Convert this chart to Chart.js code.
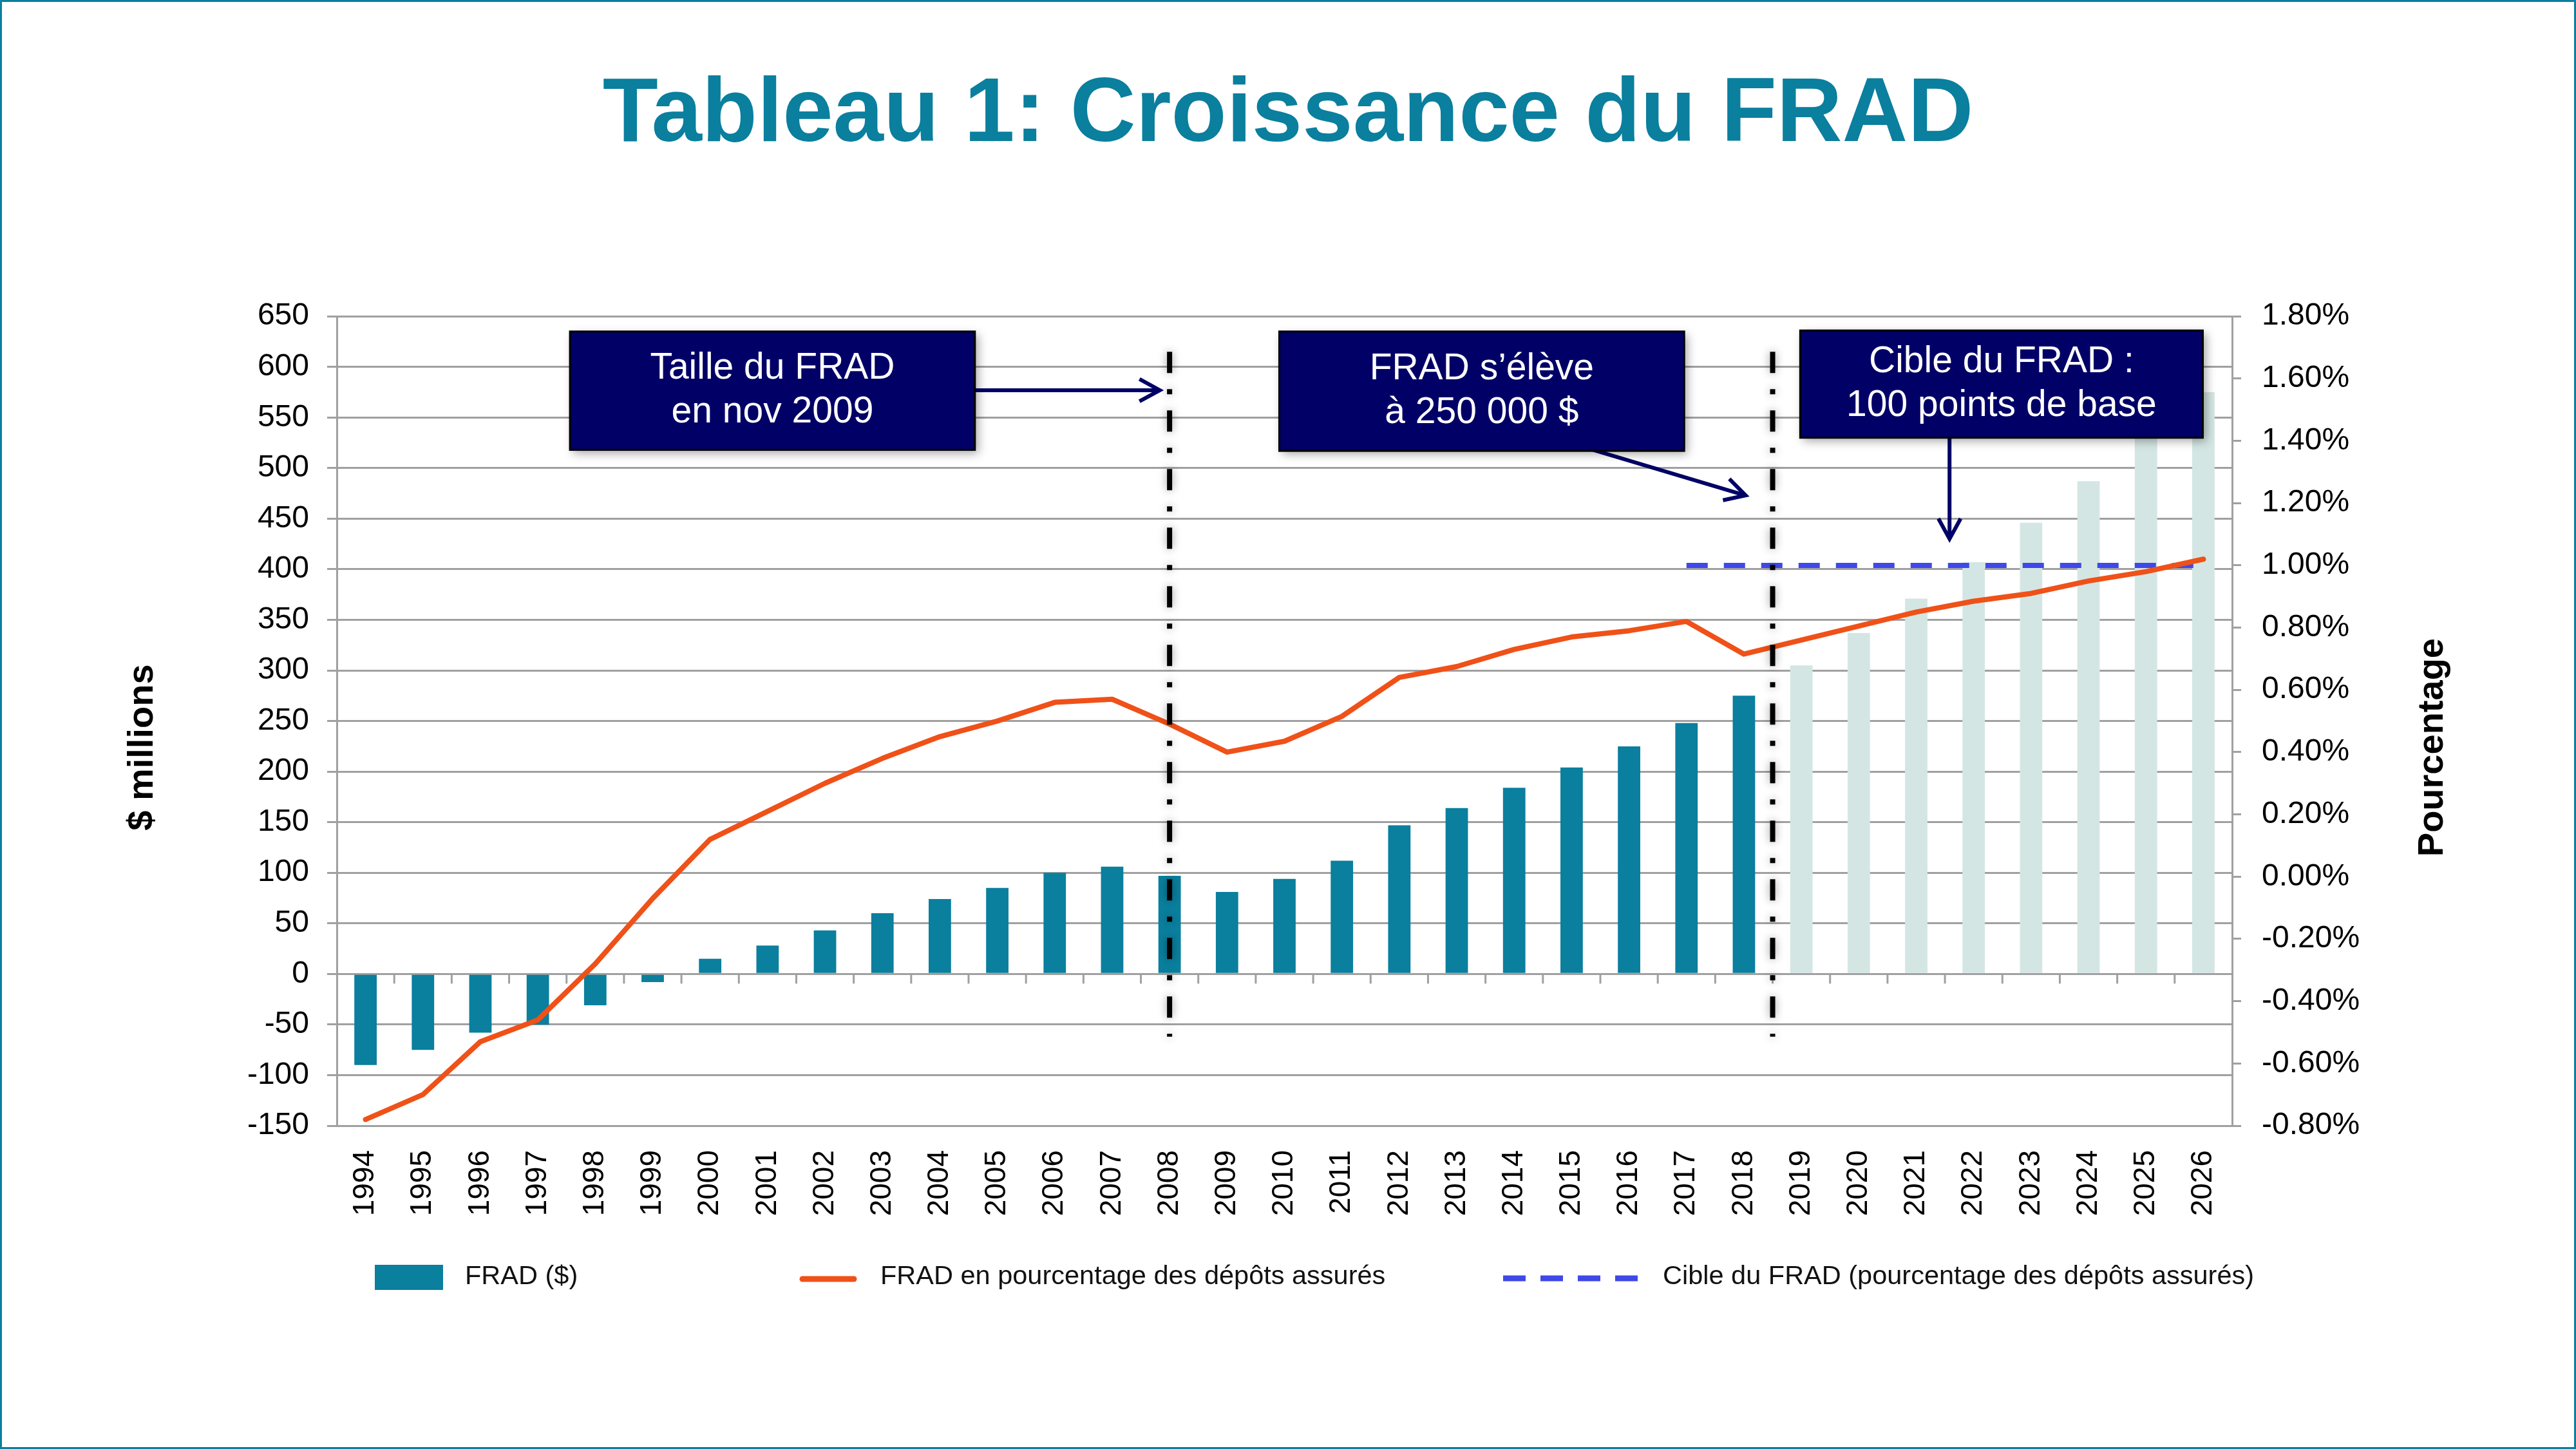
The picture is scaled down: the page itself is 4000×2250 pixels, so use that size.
<!DOCTYPE html>
<html lang="fr">
<head>
<meta charset="utf-8">
<title>Tableau 1: Croissance du FRAD</title>
<script src="https://cdn.jsdelivr.net/npm/chart.js@4.4.1/dist/chart.umd.min.js"></script>
<style>
  html, body { margin: 0; padding: 0; background: #ffffff; }
  #cadre { width: 4000px; height: 2250px; }
</style>
</head>
<body>
<div id="cadre"><canvas id="chart" width="4000" height="2250"></canvas></div>
<script>
// Données
const annees = ['1994', '1995', '1996', '1997', '1998', '1999', '2000', '2001', '2002', '2003', '2004',
    '2005', '2006', '2007', '2008', '2009', '2010', '2011', '2012', '2013', '2014', '2015', '2016',
    '2017', '2018', '2019', '2020', '2021', '2022', '2023', '2024', '2025', '2026'];

// FRAD en millions de dollars (axe de gauche)
const fradMillions = [-90, -75, -58, -50, -31, -8, 15, 28, 43, 60, 74, 85, 100, 106, 97, 81, 94,
    112, 147, 164, 184, 204, 225, 248, 275, 305, 337, 371, 407, 446, 487, 531, 575];

// FRAD en pourcentage des dépôts assurés (axe de droite)
const fradPourcentage = [-0.78, -0.70, -0.53, -0.46, -0.28, -0.07, 0.12, 0.21, 0.30, 0.38, 0.45,
    0.50, 0.56, 0.57, 0.49, 0.40, 0.435, 0.515, 0.64, 0.675, 0.73, 0.77, 0.79, 0.82, 0.715, 0.76,
    0.805, 0.85, 0.885, 0.91, 0.95, 0.98, 1.02];

// Cible du FRAD : 100 points de base
const cibleFrad = [null, null, null, null, null, null, null, null, null, null, null, null, null,
    null, null, null, null, null, null, null, null, null, null, 1.00, 1.00, 1.00, 1.00, 1.00, 1.00,
    1.00, 1.00, 1.00, 1.00];

const premiereAnneeProjetee = 2019;

const ticksGauche = [-150, -100, -50, 0, 50, 100, 150, 200, 250, 300, 350, 400, 450, 500, 550, 600, 650];
const ticksDroite = [-0.8, -0.6, -0.4, -0.2, 0, 0.2, 0.4, 0.6, 0.8, 1.0, 1.2, 1.4, 1.6, 1.8];

const etiquettesSeries = ['FRAD ($)', 'FRAD en pourcentage des dépôts assurés',
    'Cible du FRAD (pourcentage des dépôts assurés)'];

const textesAnnotations = [
    ['Taille du FRAD', 'en nov 2009'],
    ['FRAD s’élève', 'à 250 000 $'],
    ['Cible du FRAD :', '100 points de base']
];

// Couleurs
const TEAL = '#0A7F9E';
const TEAL_CLAIR = '#D4E6E3';
const ORANGE = '#EF5118';
const BLEU = '#3F48E8';
const MARINE = '#000066';
const GRILLE = '#A0A0A0';
const POLICE = '"Liberation Sans", Arial, sans-serif';

// Position des encadrés en unités du graphique (index d'année, millions $)
const encadres = [
    { x0: 3.56, x1: 10.61, yHaut: 635, yBas: 518, fleche: [10.61, 577, 13.83, 577] },
    { x0: 15.91, x1: 22.96, yHaut: 635, yBas: 517, fleche: [21.32, 519, 24.03, 473] },
    { x0: 24.98, x1: 31.99, yHaut: 636, yBas: 530, fleche: [27.58, 530, 27.58, 430] }
];
const lignesVerticales = [14, 24.5];

function dessinerFleche(ctx, x0, y0, x1, y1) {
    const angle = Math.atan2(y1 - y0, x1 - x0);
    const t = 36;
    ctx.beginPath();
    ctx.moveTo(x0, y0);
    ctx.lineTo(x1, y1);
    ctx.stroke();
    ctx.beginPath();
    ctx.moveTo(x1 - t * Math.cos(angle - 0.5), y1 - t * Math.sin(angle - 0.5));
    ctx.lineTo(x1, y1);
    ctx.lineTo(x1 - t * Math.cos(angle + 0.5), y1 - t * Math.sin(angle + 0.5));
    ctx.stroke();
}

// Plugin : traits sur l'axe zéro, lignes pointillées, encadrés
const pluginAnnotations = {
    id: 'annotations',
    beforeDatasetsDraw(chart) {
        const { ctx, scales: { x, y } } = chart;
        const y0 = y.getPixelForValue(0);
        ctx.save();
        ctx.strokeStyle = GRILLE;
        ctx.lineWidth = 3;
        for (let i = 1; i < annees.length; i++) {
            const px = x.getPixelForValue(i - 0.5);
            ctx.beginPath();
            ctx.moveTo(px, y0);
            ctx.lineTo(px, y0 + 15);
            ctx.stroke();
        }
        ctx.restore();
    },
    afterDatasetsDraw(chart) {
        const { ctx, scales: { x, y } } = chart;

        // Lignes verticales trait-point
        ctx.save();
        ctx.strokeStyle = '#000000';
        ctx.lineWidth = 8;
        ctx.setLineDash([33, 25, 8, 25]);
        ctx.shadowColor = 'rgba(0,0,0,0.4)';
        ctx.shadowBlur = 14;
        lignesVerticales.forEach(pos => {
            const px = x.getPixelForValue(pos);
            ctx.beginPath();
            ctx.moveTo(px, y.getPixelForValue(615));
            ctx.lineTo(px, y.getPixelForValue(-62));
            ctx.stroke();
        });
        ctx.restore();

        // Encadrés et flèches
        encadres.forEach((e, i) => {
            const left = x.getPixelForValue(e.x0);
            const right = x.getPixelForValue(e.x1);
            const top = y.getPixelForValue(e.yHaut);
            const bottom = y.getPixelForValue(e.yBas);

            ctx.save();
            ctx.strokeStyle = MARINE;
            ctx.lineWidth = 6;
            const f = e.fleche;
            dessinerFleche(ctx, x.getPixelForValue(f[0]), y.getPixelForValue(f[1]),
                x.getPixelForValue(f[2]), y.getPixelForValue(f[3]));
            ctx.restore();

            ctx.save();
            ctx.shadowColor = 'rgba(0,0,0,0.35)';
            ctx.shadowBlur = 14;
            ctx.shadowOffsetX = 5;
            ctx.shadowOffsetY = 5;
            ctx.fillStyle = MARINE;
            ctx.fillRect(left, top, right - left, bottom - top);
            ctx.restore();

            ctx.save();
            ctx.strokeStyle = '#000000';
            ctx.lineWidth = 3;
            ctx.strokeRect(left, top, right - left, bottom - top);
            ctx.fillStyle = '#ffffff';
            ctx.font = '57px ' + POLICE;
            ctx.textAlign = 'center';
            ctx.textBaseline = 'middle';
            const cx = (left + right) / 2;
            const cy = (top + bottom) / 2;
            ctx.fillText(textesAnnotations[i][0], cx, cy - 34);
            ctx.fillText(textesAnnotations[i][1], cx, cy + 34);
            ctx.restore();
        });
    },
    afterDraw(chart) {
        const { ctx, chartArea } = chart;
        const ds = chart.data.datasets;

        // Titres des axes
        ctx.save();
        ctx.fillStyle = '#000000';
        ctx.font = 'bold 56px ' + POLICE;
        ctx.textAlign = 'center';
        ctx.textBaseline = 'middle';
        const cy = (chartArea.top + chartArea.bottom) / 2 + 41;
        ctx.translate(222, cy);
        ctx.rotate(-Math.PI / 2);
        ctx.fillText('$ millions', 0, 0);
        ctx.restore();

        ctx.save();
        ctx.fillStyle = '#000000';
        ctx.font = 'bold 56px ' + POLICE;
        ctx.textAlign = 'center';
        ctx.textBaseline = 'middle';
        ctx.translate(chartArea.right + 312, cy);
        ctx.rotate(-Math.PI / 2);
        ctx.fillText('Pourcentage', 0, 0);
        ctx.restore();

        // Légende
        const yl = 1983;
        ctx.save();
        ctx.font = '41.5px ' + POLICE;
        ctx.textBaseline = 'middle';

        ctx.fillStyle = TEAL;
        ctx.fillRect(582, yl - 19, 106, 39);
        ctx.fillStyle = '#111111';
        ctx.fillText(ds[0].label, 722, yl);

        ctx.strokeStyle = ORANGE;
        ctx.lineWidth = 9;
        ctx.lineCap = 'round';
        ctx.beginPath();
        ctx.moveTo(1246, yl + 3);
        ctx.lineTo(1326, yl + 3);
        ctx.stroke();
        ctx.fillText(ds[1].label, 1367, yl);

        ctx.strokeStyle = BLEU;
        ctx.lineCap = 'butt';
        ctx.setLineDash([35, 23]);
        ctx.beginPath();
        ctx.moveTo(2334, yl + 2);
        ctx.lineTo(2543, yl + 2);
        ctx.stroke();
        ctx.setLineDash([]);
        ctx.fillText(ds[2].label, 2582, yl);
        ctx.restore();

        // Cadre de la diapositive
        ctx.save();
        ctx.strokeStyle = TEAL;
        ctx.lineWidth = 3;
        ctx.strokeRect(1.5, 1.5, chart.width - 3, chart.height - 3);
        ctx.restore();
    }
};

const couleursBarres = annees.map(a => Number(a) >= premiereAnneeProjetee ? TEAL_CLAIR : TEAL);

const ctx = document.getElementById('chart').getContext('2d');
window.myChart = new Chart(ctx, {
    type: 'bar',
    data: {
        labels: annees,
        datasets: [
            {
                type: 'bar',
                label: etiquettesSeries[0],
                data: fradMillions,
                backgroundColor: couleursBarres,
                borderWidth: 0,
                barPercentage: 0.39,
                categoryPercentage: 1.0,
                yAxisID: 'y',
                order: 2
            },
            {
                type: 'line',
                label: etiquettesSeries[1],
                data: fradPourcentage,
                borderColor: ORANGE,
                backgroundColor: ORANGE,
                borderWidth: 8,
                borderCapStyle: 'round',
                borderJoinStyle: 'round',
                pointRadius: 0,
                tension: 0,
                yAxisID: 'y1',
                order: 0
            },
            {
                type: 'line',
                label: etiquettesSeries[2],
                data: cibleFrad,
                borderColor: BLEU,
                backgroundColor: BLEU,
                borderWidth: 8,
                borderDash: [33, 25],
                pointRadius: 0,
                spanGaps: false,
                yAxisID: 'y1',
                order: 1
            }
        ]
    },
    options: {
        responsive: false,
        animation: false,
        devicePixelRatio: 1,
        layout: { padding: { left: 0, right: 0, top: 0, bottom: 322 } },
        plugins: {
            legend: { display: false },
            tooltip: { enabled: false },
            title: {
                display: true,
                text: 'Tableau 1: Croissance du FRAD',
                color: TEAL,
                font: { family: POLICE, size: 141, weight: 'bold', lineHeight: 1.2 },
                padding: { top: 96, bottom: 226 }
            }
        },
        scales: {
            x: {
                offset: true,
                grid: { display: false, drawTicks: false },
                border: { display: true, color: GRILLE, width: 3 },
                ticks: {
                    autoSkip: false,
                    minRotation: 90,
                    maxRotation: 90,
                    padding: 38,
                    color: '#000000',
                    font: { family: POLICE, size: 46 }
                },
                afterFit(scale) { scale.height = 180; }
            },
            y: {
                position: 'left',
                min: -150,
                max: 650,
                afterBuildTicks(scale) { scale.ticks = ticksGauche.map(v => ({ value: v })); },
                grid: { color: GRILLE, lineWidth: 3, tickLength: 15 },
                border: { color: GRILLE, width: 3 },
                ticks: {
                    padding: 28,
                    color: '#000000',
                    font: { family: POLICE, size: 48 }
                },
                afterFit(scale) { scale.width = 523; }
            },
            y1: {
                position: 'right',
                min: -0.8,
                max: 1.8,
                afterBuildTicks(scale) { scale.ticks = ticksDroite.map(v => ({ value: v })); },
                grid: { drawOnChartArea: false, color: GRILLE, lineWidth: 3, tickLength: 14 },
                border: { color: GRILLE, width: 3 },
                ticks: {
                    padding: 32,
                    color: '#000000',
                    font: { family: POLICE, size: 48 },
                    callback: v => v.toFixed(2) + '%'
                },
                afterFit(scale) { scale.width = 534; }
            }
        }
    },
    plugins: [pluginAnnotations]
});
</script>
</body>
</html>
